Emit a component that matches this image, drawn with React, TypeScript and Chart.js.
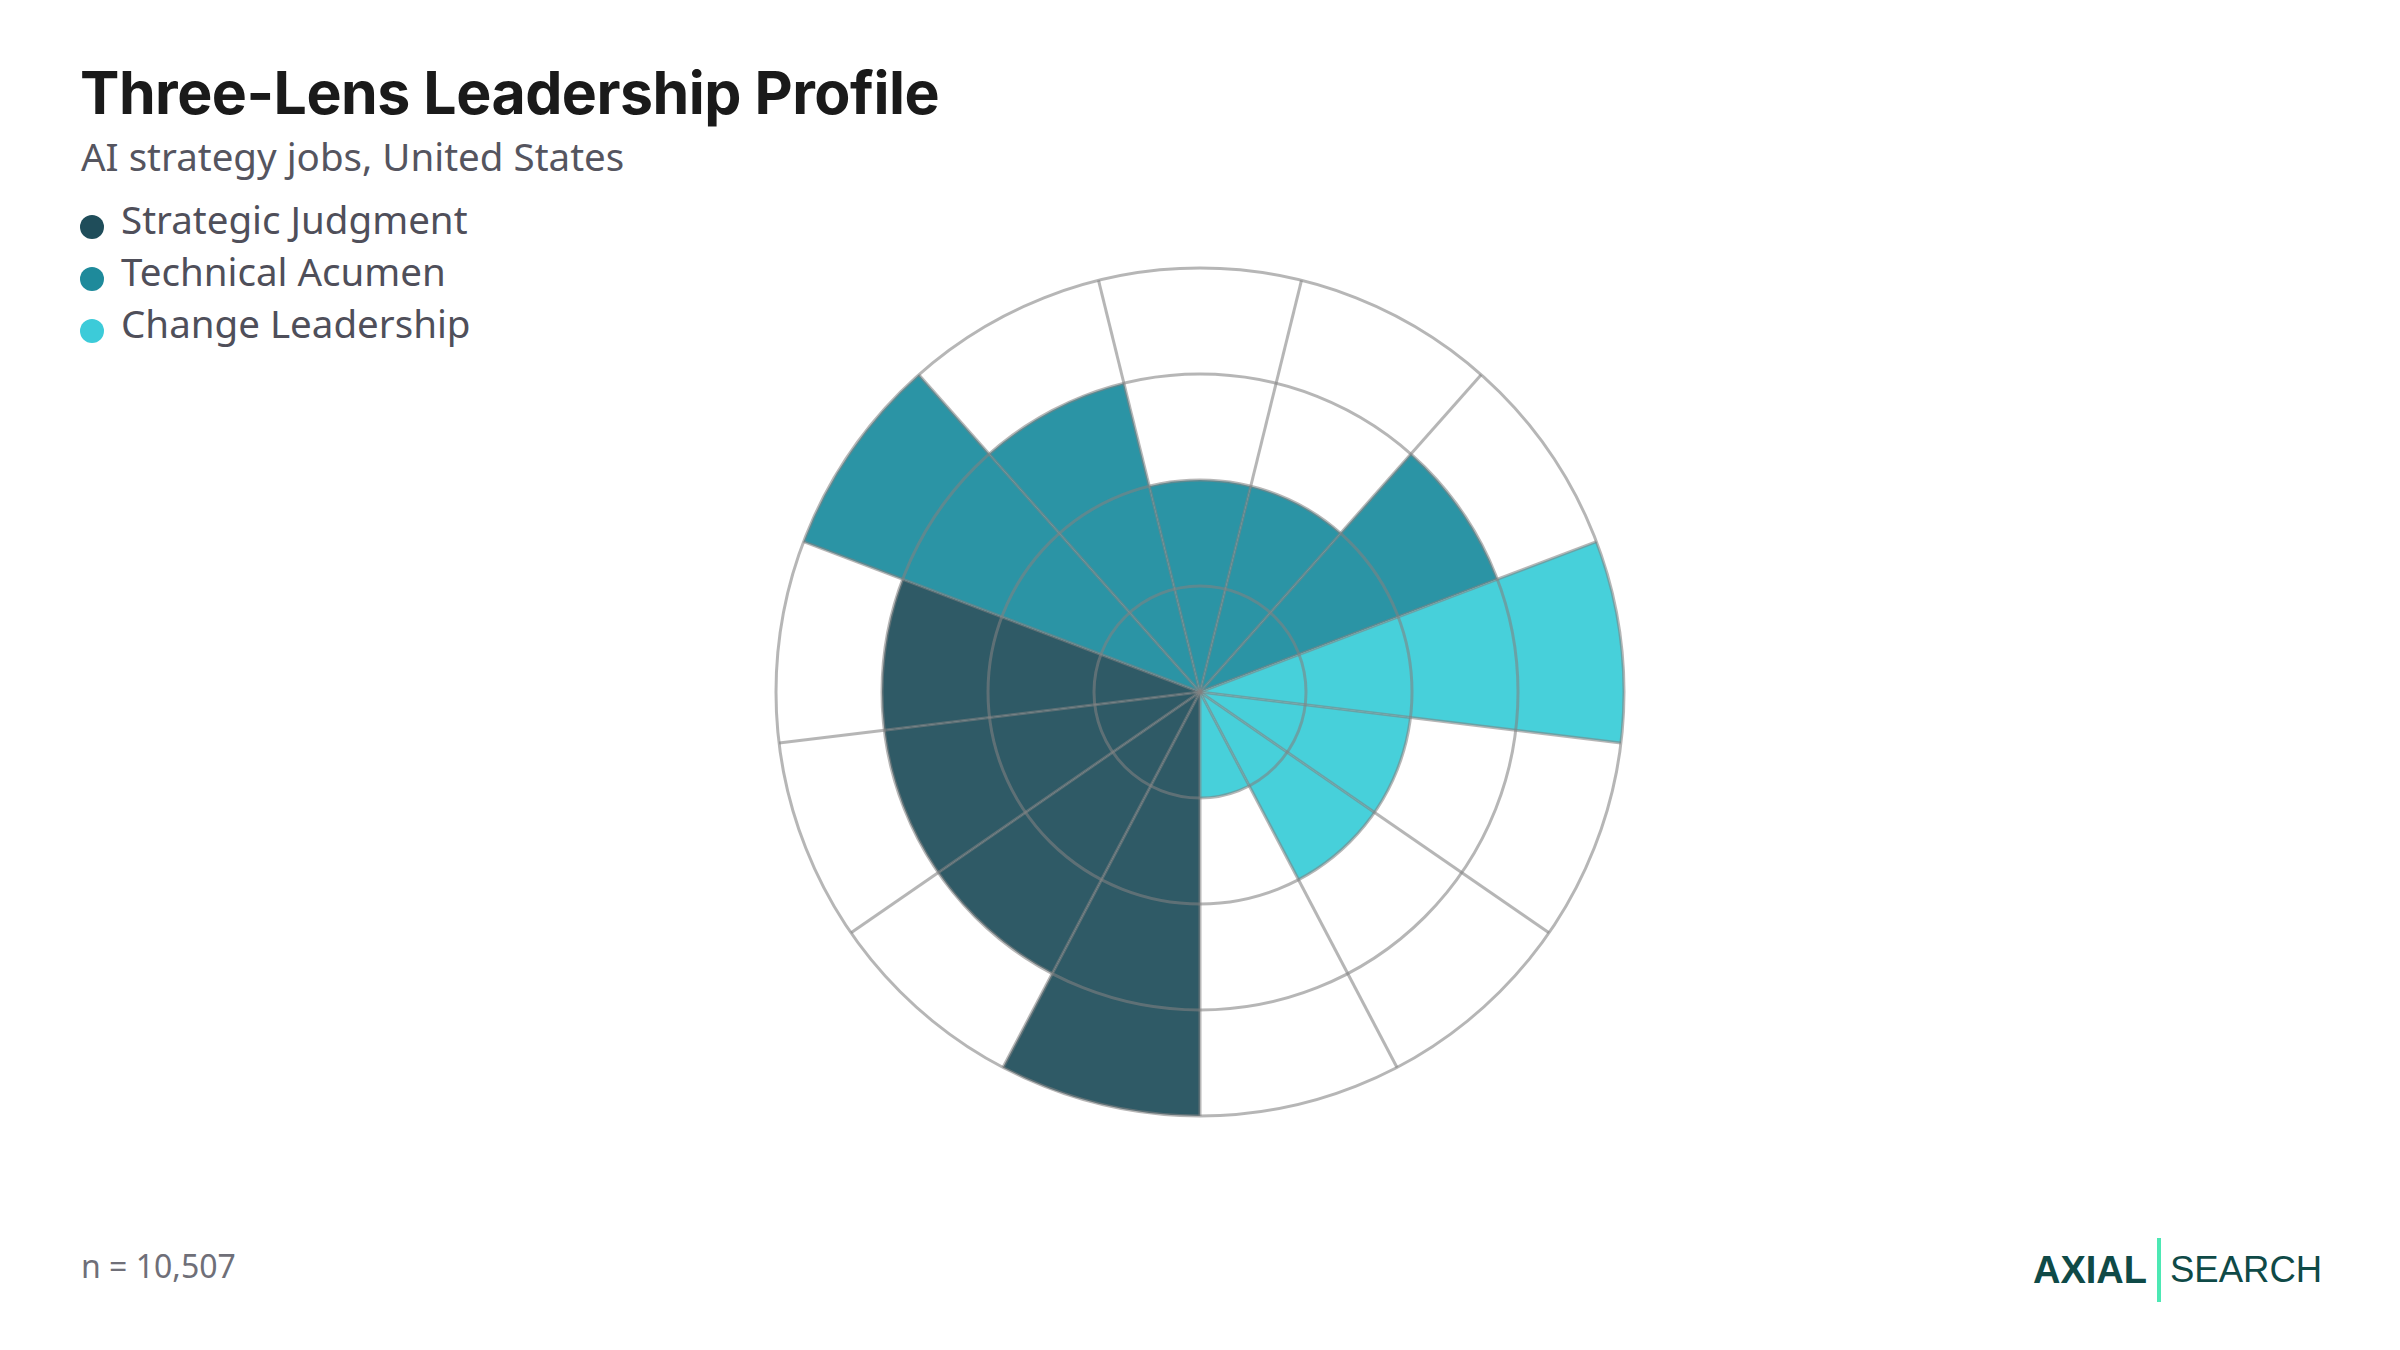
import { useEffect, useRef } from 'react';
import { Chart, registerables } from 'chart.js';

Chart.register(...registerables);

// skill categories, grouped by lens (clockwise from 6 o'clock)
const skills = [
  'Business Framing',
  'Prioritisation',
  'Risk Trade-offs',
  'Value Case',
  'Data Literacy',
  'Model Evaluation',
  'AI Architecture',
  'Tooling & Platforms',
  'Technical Roadmaps',
  'Stakeholder Alignment',
  'Operating Model',
  'Adoption & Training',
  'Governance',
];
const lensOf = [0, 0, 0, 0, 1, 1, 1, 1, 1, 2, 2, 2, 2];
const scores = [4, 3, 3, 3, 4, 3, 2, 2, 3, 4, 2, 2, 1];

const lensNames = ['Strategic Judgment', 'Technical Acumen', 'Change Leadership'];
const lensDots = ['#1f4d5a', '#1e8a9b', '#3ccbd9'];
const lensFills = ['#2f5a66', '#2b94a5', '#47d0da'];

const scaleTicks = [0, 1, 2, 3, 4];

const gridColor = 'rgba(130,130,130,0.58)';

function PolarChart() {
  const canvasRef = useRef<HTMLCanvasElement>(null);
  const chartRef = useRef<Chart | null>(null);

  useEffect(() => {
    if (!canvasRef.current) return;
    if (chartRef.current) chartRef.current.destroy();

    chartRef.current = new Chart(canvasRef.current, {
      type: 'polarArea',
      data: {
        labels: skills,
        datasets: [
          {
            data: scores,
            backgroundColor: lensOf.map((g) => lensFills[g]),
            borderWidth: 0,
          },
        ],
      },
      options: {
        responsive: true,
        maintainAspectRatio: false,
        animation: false,
        layout: { padding: 2 },
        plugins: {
          legend: { display: false },
          tooltip: { enabled: false },
        },
        scales: {
          r: {
            min: scaleTicks[0],
            max: scaleTicks[scaleTicks.length - 1],
            startAngle: 180,
            ticks: { display: false, stepSize: 1 },
            grid: { color: gridColor, lineWidth: 3, circular: true, z: 1 },
            angleLines: { display: true, color: gridColor, lineWidth: 3 },
            pointLabels: { display: false },
          },
        },
      },
    });

    return () => {
      if (chartRef.current) chartRef.current.destroy();
      chartRef.current = null;
    };
  }, []);

  return (
    <div style={{ position: 'absolute', left: 774, top: 266, width: 852, height: 852 }}>
      <canvas ref={canvasRef} />
    </div>
  );
}

export default function App() {
  const body = '"Noto Sans", "Open Sans", sans-serif';
  return (
    <div
      style={{
        position: 'fixed',
        left: 0,
        top: 0,
        width: 2400,
        height: 1350,
        background: '#ffffff',
        overflow: 'hidden',
      }}
    >
      <div
        style={{
          position: 'absolute',
          left: 80,
          top: 57,
          fontFamily: 'Inter, sans-serif',
          fontWeight: 700,
          fontSize: 59,
          lineHeight: '72px',
          color: '#1a1a1a',
          letterSpacing: -0.5,
          whiteSpace: 'nowrap',
        }}
      >
        Three-Lens Leadership Profile
      </div>
      <div
        style={{
          position: 'absolute',
          left: 81,
          top: 132,
          fontFamily: body,
          fontSize: 38.5,
          lineHeight: '48px',
          color: '#55555f',
          whiteSpace: 'nowrap',
        }}
      >
        AI strategy jobs, United States
      </div>
      <div style={{ position: 'absolute', left: 80, top: 193 }}>
        {lensNames.map((name, i) => (
          <div
            key={name}
            style={{ display: 'flex', alignItems: 'center', height: 52, whiteSpace: 'nowrap' }}
          >
            <span
              style={{
                display: 'inline-block',
                width: 24,
                height: 24,
                borderRadius: '50%',
                background: lensDots[i],
                marginRight: 17,
                marginTop: 15,
              }}
            />
            <span style={{ fontFamily: body, fontSize: 38.5, color: '#4f4f5a' }}>{name}</span>
          </div>
        ))}
      </div>
      <PolarChart />
      <div
        style={{
          position: 'absolute',
          left: 81,
          top: 1244,
          fontFamily: body,
          fontSize: 32,
          lineHeight: '44px',
          color: '#6f6f78',
          whiteSpace: 'nowrap',
        }}
      >
        n = 10,507
      </div>
      <div
        style={{
          position: 'absolute',
          left: 2033,
          top: 1238,
          height: 64,
          display: 'flex',
          alignItems: 'center',
          color: '#0f4a47',
          whiteSpace: 'nowrap',
        }}
      >
        <span
          style={{
            fontFamily: '"Liberation Sans", Arial, sans-serif',
            fontWeight: 700,
            fontSize: 38,
          }}
        >
          AXIAL
        </span>
        <span
          style={{
            display: 'inline-block',
            width: 4,
            height: 64,
            background: '#4de8b4',
            margin: '0 9px 0 10px',
          }}
        />
        <span
          style={{
            fontFamily: '"Liberation Sans", Arial, sans-serif',
            fontSize: 36.5,
          }}
        >
          SEARCH
        </span>
      </div>
    </div>
  );
}
